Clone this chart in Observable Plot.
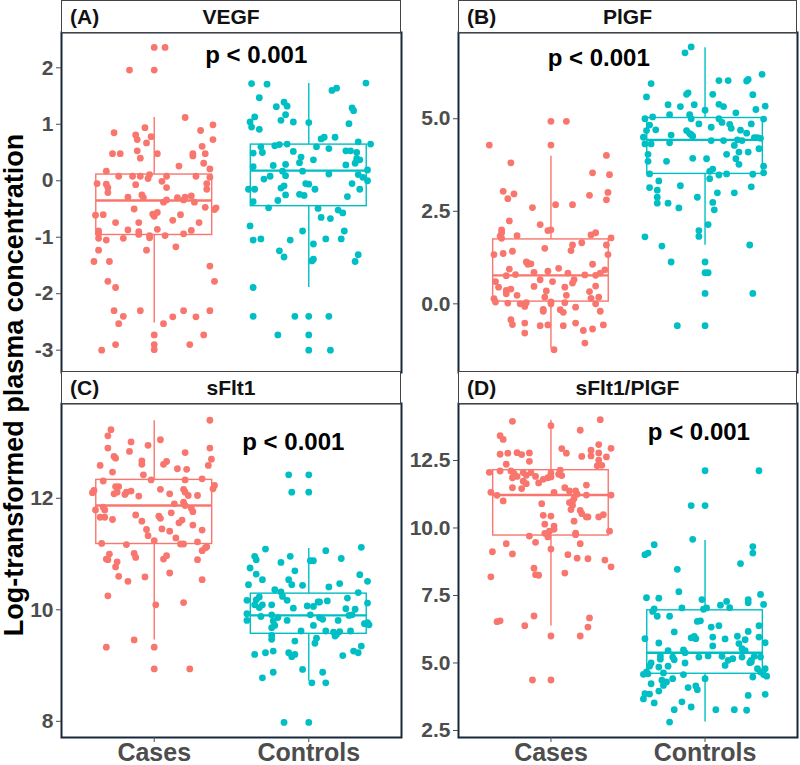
<!DOCTYPE html>
<html><head><meta charset="utf-8">
<script src="https://cdn.jsdelivr.net/npm/d3@7"></script>
<script src="https://cdn.jsdelivr.net/npm/@observablehq/plot@0.6"></script>
<style>
body{margin:0;background:#fff;font-family:"Liberation Sans",Arial,sans-serif;}
#chart{position:relative;width:800px;height:765px;overflow:hidden;background:#fff;}
.strip{position:absolute;box-sizing:border-box;border:1.5px solid #444;background:#fff;height:33px;color:#111;}
.strip .tag{position:absolute;left:8px;top:50%;transform:translateY(-50%);font-weight:bold;font-size:21px;}
.strip .name{position:absolute;left:0;right:0;text-align:center;top:50%;transform:translateY(-50%);font-weight:bold;font-size:21px;}
.ytitle{position:absolute;left:14px;top:385px;transform:translate(-50%,-50%) rotate(-90deg);white-space:nowrap;font-weight:bold;font-size:27px;color:#000;}
.panel{position:absolute;}
</style></head>
<body><div id="chart"></div>
<script>
// ---------- data ----------
const groups = ["Cases", "Controls"];
const groupColors = ["#F8766D", "#00BFC4"];
const panelTags = ["(A)", "(B)", "(C)", "(D)"];
const markers = ["VEGF", "PlGF", "sFlt1", "sFlt1/PlGF"];
const yTitle = "Log-transformed plasma concentration";
const pText = ["p < 0.001", "p < 0.001", "p < 0.001", "p < 0.001"];
const pTextX = [1.66, 1.31, 1.90, 1.96];
const pTextY = [2.22, 6.62, 13.0, 13.55];

const vegfTicks = [-3, -2, -1, 0, 1, 2];
const plgfTicks = [0, 2.5, 5];
const sflt1Ticks = [8, 10, 12];
const ratioTicks = [2.5, 5, 7.5, 10, 12.5];

const vegfDomain = [-3.395, 2.625];
const plgfDomain = [-1.855, 7.33];
const sflt1Domain = [7.71, 13.70];
const ratioDomain = [2.24, 14.61];

// box stats per group: [q1, median, q3, whiskerLow, whiskerHigh]
const vegfBox = [[-0.96, -0.35, 0.11, -2.52, 1.12], [-0.45, 0.18, 0.64, -1.89, 1.72]];
const plgfBox = [[0.06, 0.77, 1.74, -1.22, 3.99], [3.51, 4.43, 5.02, 1.58, 6.92]];
const sflt1Box = [[11.18, 11.87, 12.33, 9.46, 13.39], [9.57, 9.90, 10.29, 8.72, 11.10]];
const ratioBox = [[9.72, 11.22, 12.14, 6.37, 13.99], [4.60, 5.38, 6.95, 2.81, 9.54]];

// points: [jitter (in group units), value]
const vegfCases = [[0,2.36],[0.07,2.36],[-0.16,1.96],[0,1.96],[0.2,1.12],[-0.26,0.85],[-0.06,0.94],[-0.12,0.81],[-0.11,0.73],[-0.02,0.78],[-0.05,0.67],[0.3,0.89],[0.38,0.99],[0.38,0.73],[0.31,0.61],[-0.27,0.48],[-0.22,0.48],[-0.11,0.53],[-0.09,0.4],[0.02,0.48],[0.25,0.48],[0.25,0.44],[0.33,0.48],[0.32,0.31],[0.36,0.21],[0.16,0.26],[-0.31,0.17],[-0.37,-0.05],[-0.31,-0.06],[-0.3,-0.12],[-0.3,-0.21],[-0.23,0.08],[-0.14,0.08],[-0.09,0.08],[-0.03,0.11],[-0.12,-0.07],[-0.04,0.04],[0.05,-0.01],[0.08,0.08],[0.08,-0.12],[0.27,0.08],[0.34,-0.05],[0.34,-0.15],[0.36,0.06],[-0.17,-0.29],[-0.08,-0.25],[-0.07,-0.3],[0.06,-0.38],[0.08,-0.34],[0.15,-0.3],[0.19,-0.34],[0.2,-0.29],[0.24,-0.27],[0.26,-0.38],[0.33,-0.47],[0.39,-0.51],[0.4,-0.48],[-0.38,-0.61],[-0.33,-0.6],[-0.13,-0.5],[-0.01,-0.59],[0,-0.63],[0.02,-0.56],[-0.25,-0.74],[-0.1,-0.74],[0.12,-0.7],[0.17,-0.6],[0.29,-0.74],[-0.36,-0.89],[-0.36,-0.94],[-0.17,-0.87],[-0.1,-0.9],[-0.1,-0.95],[0.02,-0.86],[-0.03,-0.97],[-0.03,-1.01],[0.07,-0.97],[0.19,-0.94],[0.24,-0.88],[-0.36,-1.02],[-0.31,-1.05],[-0.2,-1.02],[-0.05,-1.23],[0.14,-1.17],[-0.36,-1.23],[-0.39,-1.43],[-0.29,-1.43],[0.36,-1.51],[0.39,-1.78],[-0.3,-1.78],[-0.25,-1.89],[-0.26,-2.3],[-0.09,-2.3],[0.19,-2.3],[0.36,-2.3],[-0.2,-2.4],[-0.23,-2.53],[0.12,-2.41],[0.27,-2.41],[0.06,-2.53],[0,-2.73],[0.32,-2.73],[-0.25,-2.9],[0,-2.9],[0,-2.99],[0.23,-2.9],[-0.34,-3.0]];
const vegfControls = [[-0.37,1.72],[-0.27,1.71],[0.37,1.73],[-0.32,1.47],[0.15,1.6],[0.18,1.64],[-0.35,1.13],[-0.38,1.04],[-0.37,0.95],[-0.32,0.91],[-0.21,1.31],[-0.16,1.39],[-0.14,1.32],[-0.15,1.17],[-0.18,1.07],[-0.1,1.04],[0,1.03],[0.28,1.29],[0.29,1.24],[0.26,1.01],[0.08,0.74],[0.1,0.77],[0.17,0.77],[0.32,0.69],[0.4,0.65],[-0.31,0.6],[-0.36,0.49],[-0.3,0.5],[-0.22,0.62],[-0.19,0.64],[-0.14,0.65],[0.05,0.6],[0.13,0.57],[-0.1,0.52],[0.24,0.53],[0.27,0.53],[0.31,0.5],[-0.36,0.25],[-0.23,0.27],[-0.15,0.29],[-0.06,0.32],[-0.05,0.42],[0.03,0.37],[0.24,0.28],[0.3,0.31],[0.31,0.39],[0.33,0.37],[0.38,0.19],[-0.25,0.08],[-0.29,0.03],[-0.17,0.17],[-0.15,0.09],[-0.04,0.17],[0.13,0.12],[0.32,0.11],[0.35,0.06],[0.38,0],[-0.39,-0.15],[-0.35,-0.15],[-0.16,-0.09],[-0.18,-0.13],[-0.02,-0.05],[0,-0.06],[0.04,-0.15],[0.28,-0.05],[0.33,-0.15],[-0.36,-0.37],[-0.2,-0.35],[-0.06,-0.24],[-0.03,-0.26],[-0.15,-0.25],[-0.26,-0.48],[0.06,-0.49],[0.08,-0.65],[0.14,-0.67],[0.19,-0.52],[0.22,-0.57],[0.25,-0.28],[-0.38,-0.8],[-0.04,-0.89],[0.23,-0.89],[-0.36,-1.05],[-0.31,-1.03],[-0.12,-1.05],[0.11,-1.03],[0.21,-1.03],[0.03,-1.12],[-0.19,-1.24],[-0.16,-1.35],[0.03,-1.39],[0.02,-1.42],[0.32,-1.31],[0.3,-1.43],[-0.36,-1.89],[-0.36,-2.4],[-0.09,-2.4],[0,-2.4],[0.13,-2.4],[-0.2,-2.73],[0,-2.73],[0,-3.0],[0.14,-3.0]];
const plgfCases = [[0,4.93],[0.1,4.93],[-0.4,4.29],[0,4.29],[-0.26,3.81],[0.36,4.01],[0.27,3.54],[0.38,3.49],[-0.31,3.04],[-0.24,2.97],[-0.28,2.84],[0.25,2.93],[0.37,3.01],[0.36,2.81],[-0.12,2.6],[0.03,2.68],[0.14,2.68],[-0.27,2.24],[-0.07,2.14],[-0.32,2.0],[-0.32,1.92],[-0.33,1.83],[-0.32,1.77],[-0.22,1.84],[-0.02,1.98],[0,2.0],[0.26,1.86],[0.29,1.92],[0.39,1.78],[-0.37,1.33],[-0.31,1.36],[-0.25,1.42],[-0.04,1.5],[0.14,1.59],[0.13,1.44],[0.2,1.65],[0.36,1.59],[0.37,1.33],[-0.16,1.13],[-0.15,1.07],[-0.13,1.08],[-0.15,1.1],[0.27,1.07],[-0.36,0.6],[-0.29,0.76],[-0.27,0.94],[-0.23,0.79],[-0.11,0.85],[-0.02,0.88],[0.05,0.96],[0.11,0.83],[0.22,0.78],[0.29,0.77],[0.32,0.83],[0.35,0.92],[-0.34,0.45],[-0.29,0.36],[-0.29,0.27],[-0.26,0.4],[-0.22,0.23],[-0.11,0.47],[-0.07,0.65],[0.01,0.6],[0.09,0.45],[0.1,0.23],[0.14,0.56],[0.15,0.65],[0.29,0.48],[0.25,0.33],[0.31,0.18],[-0.37,0.14],[-0.36,0.05],[-0.28,0.02],[-0.2,0],[-0.16,0.03],[-0.17,-0.07],[-0.04,0.18],[-0.03,0.35],[0,0.05],[0,0],[0.09,0.03],[0.26,0.15],[0.29,0],[-0.05,-0.15],[-0.05,-0.2],[0.06,-0.16],[0.08,-0.23],[0.16,-0.09],[0.32,-0.2],[-0.26,-0.43],[-0.25,-0.56],[-0.17,-0.52],[-0.07,-0.59],[-0.02,-0.57],[0.08,-0.59],[0.16,-0.52],[0.27,-0.68],[0.34,-0.57],[-0.17,-0.79],[0.21,-0.72],[0.22,-1.06],[0.02,-1.24]];
const plgfControls = [[-0.09,6.94],[-0.13,6.78],[-0.35,5.95],[-0.38,5.59],[0.09,6.03],[0.15,6.03],[0.27,6.02],[0.28,6.06],[0.37,6.2],[-0.11,5.7],[-0.12,5.66],[0.05,5.66],[0.31,5.65],[-0.24,5.38],[-0.16,5.33],[-0.07,5.38],[0,5.23],[0.09,5.39],[0.12,5.33],[0.2,5.16],[0.33,5.25],[0.39,5.34],[-0.39,5.0],[-0.34,5.05],[-0.23,5.11],[-0.1,5.11],[-0.09,5.0],[0.09,5.0],[0.38,4.99],[-0.36,4.83],[-0.38,4.68],[-0.32,4.7],[-0.22,4.56],[-0.12,4.68],[-0.1,4.6],[-0.09,4.57],[-0.04,4.86],[0.04,4.77],[0.11,4.9],[0.16,4.85],[0.17,4.74],[0.23,4.69],[0.27,4.61],[0.3,4.86],[0.32,4.49],[-0.4,4.5],[-0.39,4.32],[-0.35,4.32],[-0.23,4.35],[-0.08,4.53],[0.04,4.41],[0.12,4.41],[0.21,4.43],[0.24,4.41],[0.34,4.49],[0.36,4.47],[0.35,4.19],[0.19,4.28],[0.14,4.04],[0.22,4.1],[0.28,4.1],[-0.37,4.04],[-0.37,3.85],[-0.25,3.85],[-0.08,3.93],[0.01,3.92],[0.2,3.92],[0.22,3.77],[0.38,3.72],[-0.36,3.51],[0.03,3.58],[0.05,3.64],[0.09,3.48],[0.14,3.51],[0.31,3.5],[0.38,3.54],[0.03,3.38],[-0.36,3.14],[-0.31,3.07],[-0.3,3.32],[-0.16,3.19],[-0.31,2.88],[-0.24,2.72],[-0.31,2.72],[0.08,3.0],[0.19,3.0],[0.3,3.16],[-0.17,2.59],[-0.05,2.88],[0.05,2.74],[0.06,2.54],[0.02,2.14],[-0.04,1.98],[-0.04,1.82],[-0.39,1.81],[-0.28,1.56],[0.29,1.59],[-0.22,1.13],[0,1.13],[0,0.84],[0.02,0.84],[0,0.28],[0.31,0.28],[-0.18,-0.59],[0,-0.59]];
const sflt1Cases = [[0.36,13.4],[-0.28,13.23],[-0.3,13.12],[-0.3,12.9],[-0.26,12.75],[-0.25,12.72],[-0.35,12.59],[-0.27,12.47],[-0.16,12.84],[-0.15,13.01],[-0.04,12.95],[0.04,13.05],[-0.08,12.67],[-0.08,12.61],[0.08,12.66],[0.06,12.61],[0.2,12.82],[0.36,12.9],[0.37,12.7],[0.35,12.59],[0.15,12.53],[0.21,12.52],[-0.07,12.42],[-0.33,12.31],[-0.02,12.33],[0.2,12.33],[0.31,12.35],[0.39,12.23],[0.38,12.17],[-0.39,12.14],[-0.4,12.1],[-0.25,12.21],[-0.23,12.21],[-0.24,12.11],[-0.26,12.08],[-0.18,12.11],[-0.15,12.13],[-0.19,12.07],[-0.1,12.04],[0.04,12.16],[0.1,12.08],[0.19,12.16],[0.2,12.11],[0.22,12.05],[0.28,12.05],[-0.38,11.79],[-0.33,11.84],[-0.32,11.79],[0.13,11.9],[0.19,11.93],[0.2,11.87],[0.24,11.82],[0.25,11.76],[-0.32,11.66],[-0.27,11.62],[-0.35,11.66],[-0.12,11.7],[-0.08,11.59],[0.03,11.68],[0.04,11.64],[0.11,11.74],[0.16,11.56],[0.18,11.61],[0.25,11.52],[-0.05,11.44],[-0.04,11.33],[0.05,11.45],[0.1,11.41],[0.31,11.43],[0.14,11.29],[-0.34,11.19],[-0.18,11.17],[0,11.24],[0.17,11.18],[0.19,11.18],[0.28,11.22],[0.34,11.13],[0.31,11.06],[0.33,11.11],[-0.29,11.0],[-0.3,10.9],[-0.13,11.01],[-0.12,10.94],[0.06,10.91],[0.08,10.97],[-0.24,10.86],[-0.25,10.77],[-0.31,10.91],[0.28,10.9],[-0.23,10.6],[-0.17,10.51],[-0.06,10.59],[0.1,10.66],[0.31,10.54],[-0.3,10.25],[0.19,10.13],[0.01,10.09],[-0.31,9.33],[-0.13,9.46],[0,9.33],[0,8.94],[0.23,8.94]];
const sflt1Controls = [[-0.13,12.42],[0,12.42],[-0.11,12.11],[0,12.11],[-0.28,11.09],[0.34,11.12],[0.11,11.06],[-0.35,10.96],[-0.34,10.9],[-0.18,10.85],[-0.12,10.96],[0.01,10.88],[0.03,10.88],[0.21,10.92],[-0.38,10.75],[-0.34,10.64],[-0.3,10.54],[-0.09,10.7],[-0.13,10.54],[-0.11,10.45],[-0.04,10.44],[0.33,10.63],[0.38,10.51],[0.13,10.41],[0.2,10.47],[-0.39,10.45],[-0.22,10.36],[-0.18,10.32],[-0.17,10.24],[0.32,10.31],[0.25,10.21],[-0.4,10.17],[-0.34,10.18],[-0.32,10.23],[0.06,10.14],[0.07,10.14],[0.12,10.16],[0.38,10.12],[-0.35,10.09],[-0.3,10.09],[-0.32,10.04],[-0.24,10.09],[-0.14,10.17],[-0.01,10.07],[-0.1,10.03],[0.03,10.06],[0.24,10.02],[0.3,10.01],[-0.4,9.93],[-0.4,9.81],[-0.31,9.88],[-0.24,9.91],[-0.23,9.8],[-0.2,9.86],[-0.14,9.81],[0.01,9.91],[0.07,9.86],[0.09,9.83],[0.19,9.81],[0.26,9.9],[0.28,9.91],[0.36,9.75],[0.38,9.77],[0.39,9.73],[-0.22,9.72],[-0.24,9.68],[-0.05,9.62],[0.03,9.72],[0.11,9.62],[0.16,9.6],[0.2,9.61],[0.27,9.62],[-0.24,9.54],[-0.24,9.47],[0.05,9.49],[0.04,9.4],[0.17,9.53],[0.18,9.56],[-0.35,9.2],[-0.28,9.23],[-0.23,9.26],[-0.13,9.23],[-0.11,9.16],[-0.09,9.2],[-0.09,9.44],[0.22,9.18],[0.29,9.26],[0.32,9.23],[0.34,9.35],[-0.04,8.93],[-0.3,8.78],[-0.23,8.88],[0.02,8.69],[0.09,8.88],[0.11,8.69],[-0.16,7.98],[0,7.98]];
const ratioCases = [[-0.25,13.95],[0.32,14.01],[0,13.79],[0.19,13.62],[-0.33,13.42],[-0.31,13.28],[-0.28,12.77],[-0.33,12.73],[-0.22,12.79],[-0.19,12.72],[-0.14,12.78],[-0.14,12.47],[-0.29,12.36],[0.07,12.94],[0.1,12.77],[0.2,12.65],[0.26,12.88],[0.26,12.67],[0.31,12.78],[0.31,13.09],[0.39,12.95],[0.36,12.63],[0.31,12.51],[0.33,12.32],[0.3,12.3],[-0.4,12.06],[-0.33,12.11],[-0.26,12.11],[-0.24,12.02],[-0.22,11.91],[-0.25,11.86],[-0.18,12.05],[-0.16,11.95],[-0.13,12.05],[-0.1,11.91],[-0.18,11.73],[-0.16,11.64],[-0.08,11.67],[-0.05,11.8],[-0.02,11.86],[0,12.04],[0,11.89],[0.05,11.99],[0.06,12.14],[0.07,11.94],[-0.39,11.32],[-0.35,11.21],[-0.31,11.0],[-0.25,11.49],[-0.19,11.46],[0.02,11.32],[0.09,11.49],[0.12,11.37],[0.16,11.37],[0.17,11.25],[0.23,11.59],[0.23,11.22],[0.39,11.22],[0.12,10.94],[0.14,10.84],[0.13,10.68],[0.15,11.09],[0.14,10.99],[-0.06,10.9],[0.19,10.65],[0.2,10.53],[0.23,10.41],[0.24,10.41],[-0.05,10.47],[0,10.44],[0.31,10.41],[0.34,10.49],[0.15,10.25],[-0.04,10.14],[0.02,10.07],[0.02,9.95],[-0.01,9.88],[-0.04,9.8],[-0.02,9.67],[-0.14,9.7],[0.16,9.81],[0.16,9.75],[0.38,9.88],[-0.1,9.47],[0.19,9.42],[-0.29,9.42],[-0.38,9.12],[-0.25,9.04],[0,9.22],[0.11,9.01],[0.17,8.88],[0.24,8.86],[0.35,8.81],[0.39,8.56],[-0.11,8.51],[-0.1,8.27],[-0.08,8.25],[0.09,8.33],[-0.39,8.19],[-0.35,6.53],[-0.33,6.56],[-0.11,6.74],[-0.17,6.38],[0.25,6.67],[0.24,6.33],[0,6.0],[0.19,6.0],[-0.12,4.37],[0,4.37]];
const ratioControls = [[0,12.12],[0.35,12.12],[-0.09,10.83],[0,10.83],[-0.08,9.58],[0.31,9.31],[0.31,9.07],[-0.39,9.01],[-0.37,9.07],[-0.33,9.38],[0.23,8.68],[-0.18,8.47],[-0.38,7.42],[-0.3,7.4],[-0.17,7.64],[-0.02,7.35],[0.28,7.35],[0.28,7.23],[0.36,7.54],[0.38,7.17],[0.14,7.28],[0.16,7.05],[0.1,7.14],[-0.01,6.99],[0.01,7.04],[-0.15,7.04],[-0.33,7.0],[-0.31,6.73],[-0.34,6.91],[-0.23,6.73],[-0.05,6.54],[-0.03,6.56],[0.35,6.38],[0.04,6.33],[0.09,6.38],[-0.2,6.15],[-0.39,5.9],[0.28,6.17],[-0.09,5.93],[-0.07,5.98],[-0.06,5.9],[0.05,5.96],[0.21,5.99],[0.35,5.96],[0.26,5.86],[0.13,5.89],[-0.3,5.74],[0.39,5.75],[0.05,5.63],[0.22,5.72],[-0.24,5.46],[-0.14,5.48],[-0.13,5.38],[0.24,5.53],[0.26,5.46],[-0.35,5.0],[-0.36,4.88],[-0.38,4.67],[-0.4,4.58],[-0.37,4.6],[-0.29,5.26],[-0.29,5.14],[-0.21,5.22],[-0.2,5.12],[-0.13,5.0],[-0.04,5.22],[0.02,5.26],[0.11,5.25],[0.13,4.91],[0.15,5.1],[0.18,5.16],[0.24,5.22],[0.3,5.1],[0.32,5.25],[0.36,5.22],[0.29,5.01],[0.3,5.04],[-0.3,4.85],[-0.27,4.63],[-0.28,4.36],[-0.24,4.88],[-0.14,4.57],[0.34,4.79],[0.36,4.67],[0.39,4.79],[0.4,4.51],[0.38,4.57],[0.31,4.48],[0,4.42],[-0.35,4.23],[-0.25,4.3],[-0.27,4.17],[-0.21,4.42],[-0.11,4.09],[-0.06,4.15],[-0.05,4.01],[-0.3,3.96],[-0.39,3.86],[-0.4,3.67],[-0.36,3.85],[0.28,3.8],[0.39,3.84],[-0.33,3.52],[-0.15,3.56],[-0.09,3.37],[-0.2,3.27],[0.07,3.27],[0.19,3.27],[0.27,3.25],[-0.23,2.81]];

// ---------- layout ----------
const oneDec = d => d.toFixed(1);
const plain = d => String(d);
const panels = [
  {i:0, box:vegfBox, pts:[vegfCases, vegfControls], ticks:vegfTicks, fmt:plain, domain:vegfDomain, left:0, top:30, width:403, mL:61, mR:2, bottom:false},
  {i:1, box:plgfBox, pts:[plgfCases, plgfControls], ticks:plgfTicks, fmt:oneDec, domain:plgfDomain, left:400, top:30, width:400, mL:58, mR:3, bottom:false},
  {i:2, box:sflt1Box, pts:[sflt1Cases, sflt1Controls], ticks:sflt1Ticks, fmt:plain, domain:sflt1Domain, left:0, top:401, width:403, mL:61, mR:2, bottom:true},
  {i:3, box:ratioBox, pts:[ratioCases, ratioControls], ticks:ratioTicks, fmt:oneDec, domain:ratioDomain, left:400, top:401, width:400, mL:58, mR:3, bottom:true}
];
const chart = document.getElementById("chart");
const boxHalf = 0.375;

for (const p of panels) {
  const marks = [];
  p.box.forEach((b, g) => {
    const cx = g + 1, col = groupColors[g];
    marks.push(Plot.ruleX([{x: cx, y1: b[2], y2: b[4]}, {x: cx, y1: b[3], y2: b[0]}], {x: "x", y1: "y1", y2: "y2", stroke: col, strokeWidth: 1.4}));
    marks.push(Plot.rect([{x1: cx - boxHalf, x2: cx + boxHalf, y1: b[0], y2: b[2]}], {x1: "x1", x2: "x2", y1: "y1", y2: "y2", fill: "none", stroke: col, strokeWidth: 1.4}));
    marks.push(Plot.ruleY([{y: b[1], x1: cx - boxHalf, x2: cx + boxHalf}], {y: "y", x1: "x1", x2: "x2", stroke: col, strokeWidth: 2.4}));
  });
  p.pts.forEach((arr, g) => {
    marks.push(Plot.dot(arr.map(d => ({x: g + 1 + d[0], y: d[1]})), {x: "x", y: "y", r: 3.4, fill: groupColors[g], stroke: "none"}));
  });
  marks.push(Plot.text([{x: pTextX[p.i], y: pTextY[p.i], t: pText[p.i]}], {x: "x", y: "y", text: "t", fontSize: 24, fontWeight: "bold", fill: "#000"}));
  marks.push(Plot.frame({stroke: "#17283a", strokeWidth: 2}));
  marks.push(Plot.axisY({ticks: p.ticks, tickFormat: p.fmt, tickSize: 5, tickPadding: 3, fontSize: 21, fontWeight: "bold", label: null}));
  if (p.bottom) marks.push(Plot.axisX({ticks: [1, 2], tickFormat: d => groups[d - 1], tickSize: 5, tickPadding: 1, fontSize: 25, fontWeight: "bold", label: null}));
  const svg = Plot.plot({
    width: p.width,
    height: p.bottom ? 364 : 344,
    marginLeft: p.mL, marginRight: p.mR, marginTop: 2, marginBottom: p.bottom ? 28 : 2,
    x: {type: "linear", domain: [0.4, 2.6], axis: p.bottom ? undefined : null},
    y: {domain: p.domain},
    style: {fontFamily: "'Liberation Sans', Arial, sans-serif", color: "#4d4d4d", background: "transparent", overflow: "visible"},
    marks
  });
  svg.classList.add("panel");
  svg.style.left = p.left + "px";
  svg.style.top = p.top + "px";
  svg.style.position = "absolute";
  chart.appendChild(svg);

  const strip = document.createElement("div");
  strip.className = "strip";
  strip.style.left = (p.left + p.mL) + "px";
  strip.style.width = (p.width - p.mL - p.mR) + "px";
  strip.style.top = (p.bottom ? 371 : 0) + "px";
  strip.innerHTML = `<span class="tag">${panelTags[p.i]}</span><span class="name">${markers[p.i]}</span>`;
  chart.appendChild(strip);
}
const yt = document.createElement("div");
yt.className = "ytitle";
yt.textContent = yTitle;
chart.appendChild(yt);
</script>
</body></html>
